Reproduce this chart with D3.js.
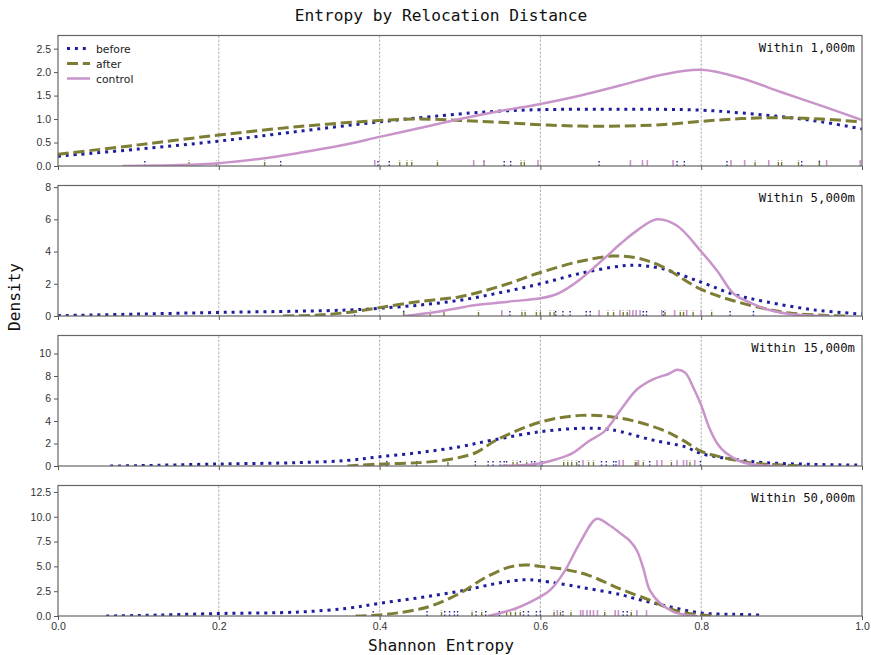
<!DOCTYPE html>
<html>
<head>
<meta charset="utf-8">
<script src="https://cdn.jsdelivr.net/npm/d3@7"></script>
<style>
  body { margin: 0; background: #fff; }
</style>
</head>
<body>
<div id="chart"></div>
<script>
var W = 871, H = 655;

// panel titles
var distances = ["Within 1,000m", "Within 5,000m", "Within 15,000m", "Within 50,000m"];
var seriesNames = ["before", "after", "control"];

// density curves, [entropy, density]
var before1000 = [[0,0.21],[0.1,0.36],[0.2,0.53],[0.3,0.74],[0.4,0.94],[0.5,1.11],[0.55,1.17],[0.6,1.2],[0.7,1.21],[0.8,1.19],[0.85,1.13],[0.9,1.05],[0.95,0.94],[1.0,0.79]];
var after1000 = [[0,0.25],[0.1,0.45],[0.2,0.66],[0.3,0.84],[0.4,0.97],[0.45,1.0],[0.5,0.97],[0.55,0.93],[0.6,0.88],[0.65,0.85],[0.7,0.85],[0.75,0.88],[0.8,0.95],[0.85,1.01],[0.9,1.03],[0.95,1.0],[1.0,0.94]];
var control1000 = [[0.08,0],[0.15,0.02],[0.2,0.06],[0.25,0.15],[0.3,0.28],[0.35,0.43],[0.4,0.62],[0.45,0.81],[0.5,1.0],[0.55,1.17],[0.6,1.32],[0.65,1.5],[0.7,1.72],[0.75,1.94],[0.8,2.05],[0.85,1.87],[0.9,1.57],[0.95,1.28],[1.0,0.98]];

var before5000 = [[0,0.02],[0.1,0.12],[0.2,0.22],[0.3,0.3],[0.36,0.37],[0.4,0.48],[0.45,0.68],[0.5,0.98],[0.55,1.45],[0.6,2.0],[0.65,2.65],[0.7,3.1],[0.72,3.15],[0.75,2.95],[0.8,2.1],[0.84,1.35],[0.88,0.89],[0.94,0.38],[1.0,0.12]];
var after5000 = [[0.28,0],[0.32,0.05],[0.36,0.22],[0.4,0.52],[0.45,0.9],[0.5,1.2],[0.55,1.85],[0.6,2.7],[0.65,3.4],[0.69,3.72],[0.72,3.6],[0.75,3.1],[0.8,1.65],[0.84,0.95],[0.88,0.45],[0.91,0.18],[0.95,0.05],[0.98,0]];
var control5000 = [[0.43,0],[0.47,0.25],[0.52,0.68],[0.56,0.89],[0.6,1.1],[0.62,1.35],[0.633,1.7],[0.65,2.3],[0.68,3.6],[0.7,4.5],[0.72,5.3],[0.745,6.0],[0.77,5.6],[0.8,4.0],[0.82,2.8],[0.84,1.4],[0.86,0.85],[0.885,0.37],[0.91,0.12],[0.94,0.02],[0.96,0]];

var before15000 = [[0.065,0],[0.1,0.03],[0.2,0.18],[0.3,0.3],[0.36,0.5],[0.4,0.82],[0.45,1.2],[0.5,1.72],[0.54,2.3],[0.6,3.05],[0.65,3.35],[0.68,3.3],[0.7,3.05],[0.74,2.3],[0.78,1.7],[0.8,1.1],[0.84,0.6],[0.88,0.3],[0.94,0.14],[1.0,0.08]];
var after15000 = [[0.36,0],[0.4,0.18],[0.45,0.3],[0.49,0.62],[0.52,1.2],[0.545,2.3],[0.6,3.9],[0.65,4.5],[0.7,4.25],[0.75,3.25],[0.777,2.3],[0.8,1.3],[0.82,0.88],[0.86,0.3],[0.9,0.09],[0.93,0]];
var control15000 = [[0.55,0],[0.58,0.08],[0.6,0.24],[0.62,0.6],[0.64,1.15],[0.66,2.2],[0.68,3.1],[0.7,5.0],[0.72,6.8],[0.74,7.7],[0.76,8.2],[0.77,8.55],[0.78,8.3],[0.79,7.0],[0.8,5.4],[0.81,3.4],[0.82,2.0],[0.83,1.2],[0.85,0.38],[0.87,0.09],[0.9,0]];

var before50000 = [[0.06,0],[0.1,0.05],[0.2,0.25],[0.3,0.4],[0.36,0.78],[0.4,1.28],[0.45,1.85],[0.5,2.5],[0.55,3.35],[0.58,3.65],[0.6,3.55],[0.65,2.9],[0.7,2.15],[0.716,1.79],[0.757,1.0],[0.8,0.3],[0.84,0.17],[0.875,0.1]];
var after50000 = [[0.37,0],[0.4,0.1],[0.425,0.34],[0.45,0.7],[0.467,1.1],[0.5,2.3],[0.53,3.8],[0.56,4.9],[0.58,5.15],[0.6,5.0],[0.63,4.7],[0.66,4.1],[0.7,2.7],[0.736,1.6],[0.76,0.78],[0.78,0.34],[0.8,0.1],[0.82,0]];
var control50000 = [[0.535,0],[0.57,0.78],[0.6,1.95],[0.612,2.6],[0.63,4.5],[0.65,7.5],[0.67,9.8],[0.685,9.2],[0.7,8.3],[0.711,7.6],[0.72,6.6],[0.728,4.8],[0.736,2.6],[0.749,1.28],[0.765,0.45],[0.782,0.1],[0.795,0]];

// rug marks (individual observations)
var rugBefore1000 = [0.108,0.277,0.398,0.412,0.53,0.555,0.563,0.673,0.77,0.779,0.832,0.925,0.947,0.998];
var rugAfter1000 = [0.163,0.197,0.257,0.425,0.434,0.44,0.472,0.576,0.58,0.867,0.896,0.9,0.921,0.947];
var rugControl1000 = [0.394,0.517,0.53,0.597,0.712,0.727,0.733,0.765,0.837,0.854,0.884,0.956,0.998];

var rugBefore5000 = [0.369,0.43,0.562,0.619,0.628,0.637,0.657,0.662,0.728,0.732,0.753,0.836,0.865];
var rugAfter5000 = [0.43,0.463,0.48,0.523,0.577,0.581,0.595,0.6,0.612,0.617,0.684,0.691,0.703,0.708,0.755,0.774,0.778,0.79,0.813];
var rugControl5000 = [0.552,0.673,0.699,0.711,0.715,0.719,0.724,0.751,0.767,0.782,0.8];

var rugBefore15000 = [0.409,0.446,0.519,0.535,0.541,0.55,0.555,0.558,0.575,0.589,0.593,0.602,0.648,0.676,0.682,0.691,0.694,0.736,0.799];
var rugAfter15000 = [0.485,0.566,0.571,0.583,0.629,0.634,0.639,0.645,0.66,0.666,0.718,0.72,0.728,0.763,0.786];
var rugControl15000 = [0.653,0.698,0.703,0.722,0.745,0.751,0.77,0.778,0.782,0.792];

var rugBefore50000 = [0.392,0.459,0.481,0.487,0.493,0.497,0.52,0.532,0.549,0.579,0.585,0.595,0.6,0.628,0.703,0.708];
var rugAfter50000 = [0.477,0.515,0.527,0.558,0.563,0.569,0.575,0.617,0.625,0.638,0.68,0.713];
var rugControl50000 = [0.621,0.65,0.653,0.658,0.662,0.666,0.671,0.693,0.697,0.72,0.732];

// axis limits and ticks
var yMaxes = [2.78, 8.1, 11.6, 13.15];
var yTicks = [[0,0.5,1,1.5,2,2.5],[0,2,4,6,8],[0,2,4,6,8,10],[0,2.5,5,7.5,10,12.5]];
var yFormats = [".1f", "d", "d", ".1f"];
var xTicks = [0, 0.2, 0.4, 0.6, 0.8, 1.0];
var gridX = [0.2, 0.4, 0.6, 0.8];

var curves = [
  [before1000, after1000, control1000],
  [before5000, after5000, control5000],
  [before15000, after15000, control15000],
  [before50000, after50000, control50000]
];
var rugs = [
  [rugBefore1000, rugAfter1000, rugControl1000],
  [rugBefore5000, rugAfter5000, rugControl5000],
  [rugBefore15000, rugAfter15000, rugControl15000],
  [rugBefore50000, rugAfter50000, rugControl50000]
];

var colors = ["#1e1e9c", "#7d7d35", "#c994c9"];
var dashes = ["3,4.9", "11,4.8", null];
var widths = [3, 3, 2.5];

var left = 58, right = 862;
var panelTops = [35.5, 185.5, 335.5, 485.5];
var panelH = 130.5;

var svg = d3.select("#chart").append("svg")
    .attr("width", W)
    .attr("height", H)
    .style("font-family", "DejaVu Sans, sans-serif");

var x = d3.scaleLinear().domain([0, 1]).range([left, right]);

svg.append("text")
    .attr("x", 441)
    .attr("y", 21)
    .attr("text-anchor", "middle")
    .style("font-family", "DejaVu Sans Mono, monospace")
    .style("font-size", "16.2px")
    .attr("fill", "#111")
    .text("Entropy by Relocation Distance");

distances.forEach(function(name, p) {
  var top = panelTops[p], bottom = top + panelH;
  var y = d3.scaleLinear().domain([0, yMaxes[p]]).range([bottom, top]);
  var g = svg.append("g");

  g.append("clipPath").attr("id", "clip" + p)
    .append("rect")
    .attr("x", left).attr("y", top)
    .attr("width", right - left).attr("height", panelH);

  // vertical grid
  g.selectAll(".grid")
    .data(gridX)
    .enter()
    .append("line")
    .attr("x1", function(d) { return x(d); })
    .attr("x2", function(d) { return x(d); })
    .attr("y1", top)
    .attr("y2", bottom)
    .attr("stroke", "#999")
    .attr("stroke-width", 0.8)
    .attr("stroke-dasharray", "2.5,1.5");

  var plot = g.append("g").attr("clip-path", "url(#clip" + p + ")");

  // rugs
  rugs[p].forEach(function(vals, s) {
    plot.selectAll(".rug" + s)
      .data(vals)
      .enter()
      .append("line")
      .attr("x1", function(d) { return x(d); })
      .attr("x2", function(d) { return x(d); })
      .attr("y1", bottom)
      .attr("y2", bottom - 6)
      .attr("stroke", colors[s])
      .attr("stroke-width", s == 2 ? 1.6 : 1.4)
      .attr("stroke-dasharray", s == 0 ? "1.5,2" : (s == 1 ? "4,1.5" : null));
  });

  // density lines
  var line = d3.line()
    .x(function(d) { return x(d[0]); })
    .y(function(d) { return y(Math.max(0, d[1])); })
    .curve(d3.curveCatmullRom.alpha(0.5));

  curves[p].forEach(function(pts, s) {
    plot.append("path")
      .datum(pts)
      .attr("d", line)
      .attr("fill", "none")
      .attr("stroke", colors[s])
      .attr("stroke-width", widths[s])
      .attr("stroke-dasharray", dashes[s]);
  });

  // axes
  var yAxis = d3.axisLeft(y)
    .tickValues(yTicks[p])
    .tickFormat(d3.format(yFormats[p]))
    .tickSize(4)
    .tickPadding(3);
  var ya = g.append("g").attr("transform", "translate(" + left + ",0)").call(yAxis);

  var xAxis = d3.axisBottom(x)
    .tickValues(xTicks)
    .tickFormat(p == 3 ? d3.format(".1f") : "")
    .tickSize(4)
    .tickPadding(3);
  var xa = g.append("g").attr("transform", "translate(0," + bottom + ")").call(xAxis);

  [ya, xa].forEach(function(a) {
    a.select(".domain").remove();
    a.selectAll("line").attr("stroke", "#555").attr("stroke-width", 1);
    a.selectAll("text").attr("fill", "#333").style("font-size", "10.5px");
  });

  // frame
  g.append("rect")
    .attr("x", left).attr("y", top)
    .attr("width", right - left).attr("height", panelH)
    .attr("fill", "none")
    .attr("stroke", "#666")
    .attr("stroke-width", 1.2);

  g.append("text")
    .attr("x", right - 7)
    .attr("y", top + 16)
    .attr("text-anchor", "end")
    .style("font-family", "DejaVu Sans Mono, monospace")
    .style("font-size", "12.3px")
    .attr("fill", "#111")
    .text(name);

  // legend in first panel
  if (p == 0) {
    var lg = g.append("g");
    seriesNames.forEach(function(s, i) {
      var ly = top + 13 + i * 15;
      lg.append("line")
        .attr("x1", 67).attr("x2", 90)
        .attr("y1", ly).attr("y2", ly)
        .attr("stroke", colors[i])
        .attr("stroke-width", widths[i])
        .attr("stroke-dasharray", dashes[i]);
      lg.append("text")
        .attr("x", 96)
        .attr("y", ly + 4)
        .style("font-size", "10.8px")
        .attr("fill", "#222")
        .text(s);
    });
  }
});

svg.append("text")
    .attr("x", 441)
    .attr("y", 651)
    .attr("text-anchor", "middle")
    .style("font-family", "DejaVu Sans Mono, monospace")
    .style("font-size", "16.2px")
    .attr("fill", "#111")
    .text("Shannon Entropy");

svg.append("text")
    .attr("transform", "translate(20,297) rotate(-90)")
    .attr("text-anchor", "middle")
    .style("font-family", "DejaVu Sans Mono, monospace")
    .style("font-size", "16.2px")
    .attr("fill", "#111")
    .text("Density");
</script>
</body>
</html>
